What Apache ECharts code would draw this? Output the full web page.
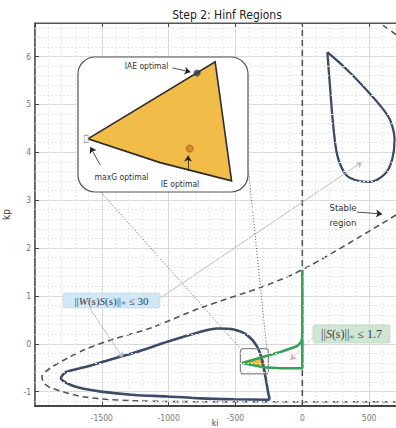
<!DOCTYPE html>
<html>
<head>
<meta charset="utf-8">
<script src="https://cdn.jsdelivr.net/npm/echarts@6/dist/echarts.min.js"></script>
<style>
html, body { margin: 0; padding: 0; background: #fff; }
#c { width: 396px; height: 428px; }
#c text { font-stretch: condensed; }
</style>
</head>
<body>
<div id="c"></div>
<script>
// ---- axis ranges (ki horizontal, kp vertical) ----
const kiRange = [-2000, 1000];
const kpRange = [-1.3, 6.7];
const kiStep = 500;

// ---- stability boundary (dashed) ----
const stableKi = [701, 37, -261, -761, -1134, -1433, -1634, -1756, -1881, -1948, -1933, -1881, -1634, -1261, -761, 701];
const stableKp = [2.69, 1.60, 1.23, 0.75, 0.33, 0.08, -0.13, -0.30, -0.50, -0.69, -0.82, -0.92, -1.11, -1.19, -1.21, -1.21];
const stableAxisKi = [0, 0];
const stableAxisKp = [-1.3, 6.7];
const stableCornerKi = [604, 701];
const stableCornerKp = [6.65, 6.46];

// ---- ||W S||inf <= 30 region ----
const hinfKi = [-244, -513, -761, -1010, -1259, -1507, -1681, -1769, -1806, -1768, -1632, -1507, -1259, -1010, -761, -637, -513, -413, -338, -301, -276, -259, -244];
const hinfKp = [-1.17, -1.16, -1.14, -1.10, -1.07, -1.00, -0.91, -0.81, -0.72, -0.59, -0.49, -0.39, -0.19, 0.04, 0.25, 0.32, 0.30, 0.18, -0.06, -0.34, -0.69, -0.97, -1.17];
const dropKi = [187, 321, 458, 590, 657, 690, 672, 619, 507, 396, 321, 261, 231, 209, 187];
const dropKp = [6.09, 5.76, 5.37, 4.95, 4.67, 4.25, 3.85, 3.55, 3.38, 3.42, 3.55, 3.94, 4.56, 5.30, 6.09];

// ---- ||S||inf <= 1.7 region ----
const sensKi = [0, 0, -3, -12, -40, -164, -289, -450, -289, -164, 0, 0];
const sensKp = [1.54, 0.16, 0.09, 0.02, -0.05, -0.17, -0.27, -0.40, -0.49, -0.51, -0.51, 0.10];

// ---- feasible intersection (drawn small in the main view and magnified in the inset) ----
const feasKi = [-450, -295, -275, -362];
const feasKp = [-0.40, -0.29, -0.46, -0.434];
const zoomBoxKi = [-463, -254];
const zoomBoxKp = [-0.63, -0.10];
const insetKi = [-462, -255];
const insetKp = [-0.476, -0.283];

// optimal gains inside the feasible set
const iaeOpt = [-317, -0.306];
const ieOpt = [-326, -0.414];
const maxgOpt = [-452, -0.40];

// ---- annotation arrows ----
const arrowWsTop = [[-1060, 0.96], [448, 3.80]];
const arrowWsLow = [[-1597, 0.77], [-1343, -0.29]];
const arrowSens = [[82, 0.14], [-90, -0.34]];
const arrowStable = [[410, 2.75], [597, 2.71]];
const zoomLinks = [
  [[-1507, 3.17], [-463, -0.10]],
  [[-403, 3.62], [-266, -0.10]]
];
const arrowIae = [[-347, -0.2987], [-325, -0.3044]];
const arrowMaxg = [[-435, -0.4373], [-447, -0.4116]];
const arrowIe = [[-328, -0.4454], [-328, -0.4239]];

// minor grid rows every 0.2 in kp
const kpMinor = [];
for (let v = -12; v <= 66; v += 2) { if (v % 10 !== 0) kpMinor.push(v / 10); }

const NARROW = "'DejaVu Sans','Liberation Sans',sans-serif";
const SERIF = "'Liberation Serif','DejaVu Serif',serif";

const pairs = (xs, ys) => xs.map((x, i) => [x, ys[i]]);
const plain = v => String(v);

function lineSeries(xs, ys, style, extra) {
  return Object.assign({
    type: 'line', xAxisIndex: 0, yAxisIndex: 0,
    data: pairs(xs, ys), symbol: 'none', showSymbol: false,
    lineStyle: style, silent: true, animation: false
  }, extra || {});
}

function arrowSeries(list, color, width, type, head, xi, yi, z) {
  return {
    type: 'lines', coordinateSystem: 'cartesian2d',
    xAxisIndex: xi, yAxisIndex: yi, z: z, silent: true, animation: false,
    symbol: head ? ['none', 'arrow'] : ['none', 'none'], symbolSize: 6,
    lineStyle: { color: color, width: width, type: type, opacity: 1, curveness: 0 },
    data: list.map(c => ({ coords: c }))
  };
}

const chart = echarts.init(document.getElementById('c'), null, { renderer: 'svg' });

chart.setOption({
  animation: false,
  backgroundColor: '#fff',
  title: {
    text: 'Step 2: Hinf Regions', left: 222, top: 4, textAlign: 'center',
    textStyle: { fontFamily: NARROW, fontSize: 12, fontWeight: 'normal', color: '#222' }
  },
  grid: [
    { left: 35, top: 23, right: -40, bottom: 22, outerBoundsMode: 'none', containLabel: false, show: true, borderColor: '#555', borderWidth: 1.2, backgroundColor: '#fff' },
    { left: 78, top: 57, width: 170, height: 135, outerBoundsMode: 'none', containLabel: false, show: false }
  ],
  xAxis: [
    {
      gridIndex: 0, type: 'value', min: kiRange[0], max: kiRange[1], interval: kiStep,
      axisLine: { show: true, onZero: false, lineStyle: { color: '#444', width: 2 } },
      axisTick: { inside: true, length: 4, lineStyle: { color: '#444' } },
      axisLabel: { showMinLabel: false, showMaxLabel: false, formatter: plain, color: '#777', fontSize: 8.5, fontFamily: NARROW, margin: 7 },
      splitLine: { show: true, lineStyle: { color: '#d9d9d9', width: 1 } },
      minorTick: { show: false, splitNumber: 5 },
      minorSplitLine: { show: true, lineStyle: { color: '#e6e6e6', width: 1, type: [2, 2] } }
    },
    {
      gridIndex: 0, type: 'value', position: 'top', min: kiRange[0], max: kiRange[1], interval: kiStep,
      axisLine: { show: true, onZero: false, lineStyle: { color: '#555', width: 1.2 } },
      axisTick: { inside: true, length: 4, lineStyle: { color: '#444' } },
      axisLabel: { show: false }, splitLine: { show: false }
    },
    { gridIndex: 1, type: 'value', min: insetKi[0], max: insetKi[1], show: false }
  ],
  yAxis: [
    {
      gridIndex: 0, type: 'value', min: kpRange[0], max: kpRange[1], splitNumber: 8,
      name: 'kp', nameLocation: 'middle', nameGap: 11,
      nameTextStyle: { fontFamily: NARROW, fontSize: 10, color: '#444' },
      axisLine: { show: true, onZero: false, lineStyle: { color: '#555', width: 1.5 } },
      axisTick: { inside: true, length: 4, lineStyle: { color: '#444' } },
      axisLabel: { showMinLabel: false, showMaxLabel: false, formatter: plain, color: '#777', fontSize: 8.5, fontFamily: NARROW, margin: 4 },
      splitLine: { show: true, lineStyle: { color: '#d9d9d9', width: 1 } }
    },
    { gridIndex: 1, type: 'value', min: insetKp[0], max: insetKp[1], show: false }
  ],
  series: [
    // minor kp grid rows
    {
      type: 'line', xAxisIndex: 0, yAxisIndex: 0, data: [], z: 1, silent: true,
      markLine: {
        silent: true, symbol: ['none', 'none'], label: { show: false }, animation: false,
        lineStyle: { color: '#e6e6e6', width: 1, type: [2, 2] },
        emphasis: { disabled: true },
        data: kpMinor.map(v => ({ yAxis: v }))
      }
    },
    // stability boundary
    lineSeries(stableKi, stableKp, { color: '#555', width: 1.6, type: [6, 4] }, { smooth: 0.3, z: 2 }),
    lineSeries(stableAxisKi, stableAxisKp, { color: '#555', width: 1.6, type: [6, 4] }, { z: 2 }),
    lineSeries(stableCornerKi, stableCornerKp, { color: '#555', width: 1.6, type: [6, 4] }, { z: 2 }),
    // feasible intersection, small
    {
      type: 'custom', xAxisIndex: 0, yAxisIndex: 0, z: 3, silent: true,
      data: [[feasKi[0], feasKp[0]]],
      renderItem: (params, api) => ({
        type: 'polygon',
        shape: { points: feasKi.map((k, i) => api.coord([k, feasKp[i]])) },
        style: { fill: '#f2bc48', stroke: null }
      })
    },
    // H-infinity regions
    lineSeries(hinfKi, hinfKp, { color: '#3d4b6b', width: 2.6 }, { smooth: 0.3, z: 3 }),
    lineSeries(dropKi, dropKp, { color: '#3d4b6b', width: 2.3 }, { smooth: 0.3, z: 3 }),
    lineSeries(sensKi, sensKp, { color: '#34a058', width: 2.6 }, { z: 4 }),
    // zoom box
    {
      type: 'custom', xAxisIndex: 0, yAxisIndex: 0, z: 4, silent: true,
      data: [[zoomBoxKi[0], zoomBoxKp[0]]],
      renderItem: (params, api) => {
        const a = api.coord([zoomBoxKi[0], zoomBoxKp[1]]);
        const b = api.coord([zoomBoxKi[1], zoomBoxKp[0]]);
        return {
          type: 'rect',
          shape: { x: a[0], y: a[1], width: b[0] - a[0], height: b[1] - a[1], r: 3 },
          style: { fill: null, stroke: '#888', lineWidth: 1.3 }
        };
      }
    },
    // annotation arrows
    arrowSeries([arrowWsTop, arrowWsLow], '#bdbdbd', 1, 'solid', true, 0, 0, 4),
    arrowSeries([arrowSens], '#d6b3b3', 1, [3, 2], true, 0, 0, 4),
    arrowSeries([arrowStable], '#222', 0.8, 'solid', true, 0, 0, 4),
    arrowSeries(zoomLinks, '#555', 1, [1, 2], false, 0, 0, 4),
    // inset panel
    {
      type: 'custom', xAxisIndex: 2, yAxisIndex: 1, z: 6, silent: true,
      data: [[insetKi[0], insetKp[0]]],
      renderItem: (params) => {
        const cs = params.coordSys;
        return {
          type: 'rect',
          shape: { x: cs.x, y: cs.y, width: cs.width, height: cs.height, r: 17 },
          style: { fill: '#fff', stroke: '#555', lineWidth: 1.2 }
        };
      }
    },
    {
      type: 'custom', xAxisIndex: 2, yAxisIndex: 1, z: 7, silent: true,
      data: [[feasKi[0], feasKp[0]]],
      renderItem: (params, api) => ({
        type: 'polygon',
        shape: { points: feasKi.map((k, i) => api.coord([k, feasKp[i]])) },
        style: { fill: '#f2bc48', stroke: '#2b2b2b', lineWidth: 1.6, lineJoin: 'miter' }
      })
    },
    {
      type: 'scatter', xAxisIndex: 2, yAxisIndex: 1, z: 8, silent: true,
      data: [
        { value: iaeOpt, symbol: 'circle', symbolSize: 7, itemStyle: { color: '#2e3a55' } },
        { value: ieOpt, symbol: 'circle', symbolSize: 7, itemStyle: { color: '#d9782d', borderColor: '#9a4a1c', borderWidth: 0.8 } },
        { value: maxgOpt, symbol: 'rect', symbolSize: [4, 7], itemStyle: { color: '#fff', borderColor: '#999', borderWidth: 1 } }
      ]
    },
    arrowSeries([arrowIae, arrowMaxg, arrowIe], '#222', 0.8, 'solid', true, 2, 1, 8)
  ],
  graphic: {
    elements: [
      { type: 'rect', z: 20, silent: true, shape: { x: 63, y: 293, width: 97, height: 15, r: 2 }, style: { fill: '#cfe7f6', stroke: '#b8d6ea', lineWidth: 0.6 } },
      {
        type: 'text', z: 21, silent: true,
        style: {
          x: 111.5, y: 300.5, align: 'center', verticalAlign: 'middle',
          text: '{n|||}{i|W}{n|(s)}{i|S}{n|(s)||}{s|\u221E}{n| \u2264 30}',
          rich: {
            n: { fontFamily: SERIF, fontSize: 11, fill: '#3a3a4a' },
            i: { fontFamily: SERIF, fontSize: 11, fontStyle: 'italic', fill: '#3a3a4a' },
            s: { fontFamily: SERIF, fontSize: 7, fill: '#3a3a4a', verticalAlign: 'bottom', padding: [5, 0, 0, 0] }
          }
        }
      },
      { type: 'rect', z: 20, silent: true, shape: { x: 313, y: 325, width: 77, height: 18, r: 2 }, style: { fill: '#cfe6d3', stroke: '#b7d3bd', lineWidth: 0.6 } },
      {
        type: 'text', z: 21, silent: true,
        style: {
          x: 351.5, y: 334, align: 'center', verticalAlign: 'middle',
          text: '{n|||}{i|S}{n|(s)||}{s|\u221E}{n| \u2264 1.7}',
          rich: {
            n: { fontFamily: SERIF, fontSize: 12, fill: '#3a3a4a' },
            i: { fontFamily: SERIF, fontSize: 12, fontStyle: 'italic', fill: '#3a3a4a' },
            s: { fontFamily: SERIF, fontSize: 7, fill: '#3a3a4a', verticalAlign: 'bottom', padding: [5, 0, 0, 0] }
          }
        }
      },
      { type: 'text', z: 21, silent: true, style: { x: 343, y: 214.5, align: 'center', verticalAlign: 'middle', text: 'Stable\nregion', lineHeight: 15, fontFamily: NARROW, fontSize: 9.5, fill: '#333' } },
      { type: 'text', z: 21, silent: true, style: { x: 146.5, y: 66, align: 'center', verticalAlign: 'middle', text: 'IAE optimal', fontFamily: NARROW, fontSize: 8.5, fill: '#333' } },
      { type: 'text', z: 21, silent: true, style: { x: 121.5, y: 177, align: 'center', verticalAlign: 'middle', text: 'maxG optimal', fontFamily: NARROW, fontSize: 8.5, fill: '#333' } },
      { type: 'text', z: 21, silent: true, style: { x: 180, y: 184, align: 'center', verticalAlign: 'middle', text: 'IE optimal', fontFamily: NARROW, fontSize: 8.5, fill: '#333' } },
      { type: 'text', z: 21, silent: true, style: { x: 215, y: 418, align: 'center', verticalAlign: 'top', text: 'ki', fontFamily: NARROW, fontSize: 8.5, fill: '#444' } }
    ]
  }
});
</script>
</body>
</html>
